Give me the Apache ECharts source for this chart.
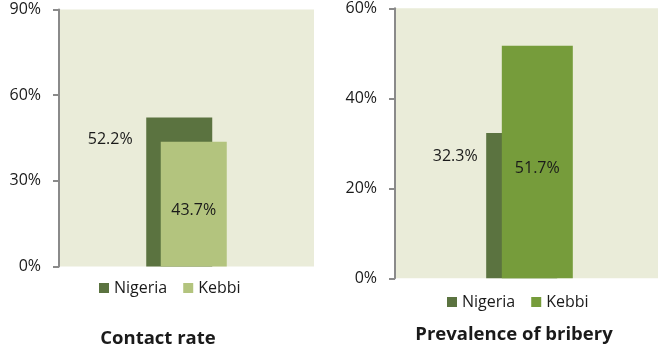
<!DOCTYPE html>
<html>
<head>
<meta charset="utf-8">
<script src="https://cdn.jsdelivr.net/npm/echarts@6/dist/echarts.min.js"></script>
<style>
html,body{margin:0;padding:0;background:#fff;}
#c{width:658px;height:354px;}
</style>
</head>
<body>
<div id="c"></div>
<script>
var seriesNames = ['Nigeria', 'Kebbi'];
var chartTitles = ['Contact rate', 'Prevalence of bribery'];
var contactNigeria = [52.2];
var contactKebbi = [43.7];
var briberyNigeria = [32.3];
var briberyKebbi = [51.7];
var contactTicks = {min: 0, max: 90, interval: 30};
var briberyTicks = {min: 0, max: 60, interval: 20};

var FONT = '"Open Sans", Lato, sans-serif';
var bg = '#EAECD9';
var cNig = '#5B7340';
var cKebLeft = '#B3C47E';
var cKebRight = '#769C3B';
var txt = '#1a1a1a';

function yAxis(idx, t) {
  return {
    type: 'value', gridIndex: idx, min: t.min, max: t.max, interval: t.interval,
    axisLine: {show: true, lineStyle: {color: '#8a8a8a', width: 2}},
    axisTick: {show: true, inside: false, length: 6, lineStyle: {color: '#8a8a8a', width: 2}},
    splitLine: {show: false},
    axisLabel: {formatter: '{value}%', margin: 18, color: txt, fontFamily: FONT, fontSize: 16}
  };
}
function xAxis(idx) {
  return {
    type: 'category', gridIndex: idx, data: [''],
    axisLine: {show: false}, axisTick: {show: false}, axisLabel: {show: false}
  };
}
function fmt(p) { return p.value.toFixed(1) + '%'; }

var option = {
  animation: false,
  backgroundColor: '#fff',
  grid: [
    {left: 59, top: 9.5, width: 255, height: 257, show: true, backgroundColor: bg, borderWidth: 0,
     containLabel: false, outerBoundsMode: 'none'},
    {left: 395, top: 8.3, width: 269, height: 270, show: true, backgroundColor: bg, borderWidth: 0,
     containLabel: false, outerBoundsMode: 'none'}
  ],
  xAxis: [xAxis(0), xAxis(1)],
  yAxis: [yAxis(0, contactTicks), yAxis(1, briberyTicks)],
  title: [
    {text: chartTitles[0], left: 158, top: 327, textAlign: 'center', padding: 0,
     textStyle: {fontFamily: FONT, fontSize: 18.5, fontWeight: 'bold', color: txt, lineHeight: 24}},
    {text: chartTitles[1], left: 514, top: 323, textAlign: 'center', padding: 0,
     textStyle: {fontFamily: FONT, fontSize: 18.5, fontWeight: 'bold', color: txt, lineHeight: 24}}
  ],
  legend: [
    {left: 99, top: 280, padding: 0, itemWidth: 10, itemHeight: 10, itemGap: 16, icon: 'rect',
     data: ['Nigeria', 'Kebbi '],
     formatter: function (n) { return n.trim(); },
     textStyle: {fontFamily: FONT, fontSize: 16, color: txt, lineHeight: 16}},
    {left: 447, top: 294, padding: 0, itemWidth: 10, itemHeight: 10, itemGap: 16, icon: 'rect',
     data: ['Nigeria ', 'Kebbi'],
     formatter: function (n) { return n.trim(); },
     textStyle: {fontFamily: FONT, fontSize: 16, color: txt, lineHeight: 16}}
  ],
  series: [
    {name: 'Nigeria', type: 'bar', xAxisIndex: 0, yAxisIndex: 0, data: contactNigeria,
     barWidth: 66, barGap: '-78%', itemStyle: {color: cNig},
     label: {show: true, position: [-36, 22], align: 'center', verticalAlign: 'middle',
             formatter: fmt, color: txt, fontFamily: FONT, fontSize: 16}},
    {name: 'Kebbi ', type: 'bar', xAxisIndex: 0, yAxisIndex: 0, data: contactKebbi,
     barWidth: 66, barGap: '-78%', itemStyle: {color: cKebLeft},
     label: {show: true, position: 'inside', offset: [0, 6],
             formatter: fmt, color: txt, fontFamily: FONT, fontSize: 16}},
    {name: 'Nigeria ', type: 'bar', xAxisIndex: 1, yAxisIndex: 1, data: briberyNigeria,
     barWidth: 71, barGap: '-78%', itemStyle: {color: cNig},
     label: {show: true, position: [-31, 23], align: 'center', verticalAlign: 'middle',
             formatter: fmt, color: txt, fontFamily: FONT, fontSize: 16}},
    {name: 'Kebbi', type: 'bar', xAxisIndex: 1, yAxisIndex: 1, data: briberyKebbi,
     barWidth: 71, barGap: '-78%', itemStyle: {color: cKebRight},
     label: {show: true, position: 'inside', offset: [0, 6],
             formatter: fmt, color: txt, fontFamily: FONT, fontSize: 16}}
  ]
};
var chart = echarts.init(document.getElementById('c'), null, {renderer: 'canvas'});
chart.setOption(option);
</script>
</body>
</html>
